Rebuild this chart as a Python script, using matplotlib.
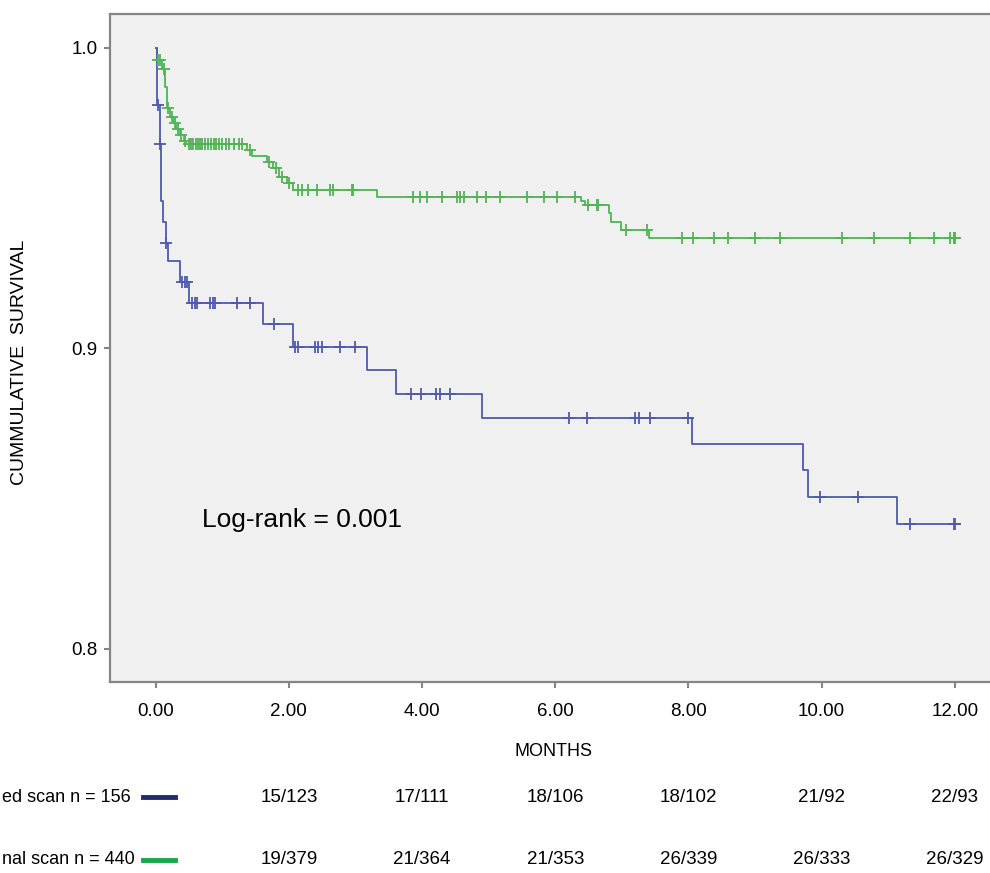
import numpy as np
import matplotlib
matplotlib.use('Agg')
import matplotlib.pyplot as plt
import matplotlib.transforms as mtransforms

plt.rcParams['font.family'] = ['Liberation Sans', 'DejaVu Sans']

# Kaplan-Meier steps (months, survival) and censored times
normal_times = [0, 0.02, 0.10, 0.14, 0.17, 0.22, 0.27, 0.31, 0.36, 0.42, 0.46,
                1.37, 1.45, 1.67, 1.76, 1.85, 1.97, 2.06, 3.32,
                6.38, 6.45, 6.80, 6.84, 6.98, 7.41]
normal_surv = [1.0, 0.996, 0.993, 0.987, 0.980, 0.977, 0.975, 0.973, 0.971, 0.969, 0.968,
               0.966, 0.964, 0.962, 0.960, 0.957, 0.955, 0.9527, 0.9503,
               0.9490, 0.9478, 0.9451, 0.9422, 0.9394, 0.9367]
normal_cens = [0.03, 0.06, 0.12, 0.19, 0.24, 0.29, 0.33, 0.38, 0.44,
               0.50, 0.53, 0.56, 0.60, 0.63, 0.66, 0.70, 0.74, 0.78, 0.83, 0.87,
               0.91, 0.95, 1.00, 1.05, 1.10, 1.17, 1.25, 1.30, 1.42, 1.70, 1.80, 1.90, 2.00,
               2.14, 2.20, 2.29, 2.42, 2.62, 2.67, 2.95, 2.97,
               3.86, 3.97, 4.08, 4.30, 4.52, 4.57, 4.63, 4.82, 4.96, 5.17, 5.57, 5.83,
               6.03, 6.30, 6.49, 6.62, 6.64, 7.06, 7.37,
               7.90, 8.07, 8.39, 8.60, 9.00, 9.38, 10.30, 10.78, 11.33, 11.69, 11.92,
               11.98, 12.00]

delayed_times = [0, 0.02, 0.06, 0.08, 0.11, 0.15, 0.19, 0.37, 0.50, 1.61, 2.06,
                 3.17, 3.61, 4.90, 8.06, 9.72, 9.79, 11.13]
delayed_surv = [1.0, 0.981, 0.968, 0.949, 0.942, 0.935, 0.929, 0.922, 0.915, 0.908, 0.9006,
                0.8927, 0.8849, 0.8768, 0.8681, 0.8596, 0.8507, 0.8416]
delayed_cens = [0.03, 0.07, 0.16, 0.39, 0.44, 0.47, 0.54, 0.59, 0.62, 0.82, 0.86, 0.89,
                1.22, 1.42, 1.77, 2.09, 2.14, 2.39, 2.44, 2.49, 2.77, 2.99,
                3.83, 3.99, 4.21, 4.27, 4.42, 6.20, 6.47, 7.20, 7.25, 7.42, 8.00,
                9.97, 10.54, 11.33, 11.99, 12.00]

end_month = 12.0
x_ticks = [0, 2, 4, 6, 8, 10, 12]
y_ticks = [0.8, 0.9, 1.0]

# numbers-at-risk table under the plot
table_months = [2, 4, 6, 8, 10, 12]
delayed_row = ['15/123', '17/111', '18/106', '18/102', '21/92', '22/93']
normal_row = ['19/379', '21/364', '21/353', '26/339', '26/333', '26/329']
# left labels are cut by the image edge in the source, keep what is visible
delayed_label = 'ed scan n = 156'
normal_label = 'nal scan n = 440'

BLUE = '#4f5aac'
GREEN = '#52b356'
SPINE = '#858585'


def surv_at(times, surv, t):
    idx = np.searchsorted(times, t, side='right') - 1
    return np.asarray(surv)[idx]


def draw_curve(ax, times, surv, cens, color):
    xs = list(times) + [end_month]
    ys = list(surv) + [surv[-1]]
    ax.step(xs, ys, where='post', color=color, lw=1.3, zorder=3)
    cy = surv_at(np.asarray(times), surv, np.asarray(cens))
    ax.plot(cens, cy, ls='none', marker='+', ms=8, mew=1.3, color=color, zorder=4)


fig = plt.figure(figsize=(9.9, 8.73), dpi=100)
ax = fig.add_axes([0.1111, 0.2188, 0.9005, 0.7652])
ax.set_facecolor('#f0f0f0')

draw_curve(ax, normal_times, normal_surv, normal_cens, GREEN)
draw_curve(ax, delayed_times, delayed_surv, delayed_cens, BLUE)

ax.set_xlim(-0.686, 12.7)
ax.set_ylim(0.789, 1.0113)
ax.set_xticks(x_ticks)
ax.set_xticklabels([f'{t:.2f}' for t in x_ticks])
ax.set_yticks(y_ticks)
ax.set_yticklabels([f'{t:.1f}' for t in y_ticks])
ax.tick_params(axis='x', length=4, width=1.5, color=SPINE, labelsize=13.5, pad=11)
ax.tick_params(axis='y', length=4, width=1.5, color=SPINE, labelsize=13.5, pad=5)
for sp in ax.spines.values():
    sp.set_color(SPINE)
    sp.set_linewidth(1.6)

ax.text(0.7, 0.8429, 'Log-rank = 0.001', fontsize=19, va='center', ha='left')

# axis titles
fig.text(553 / 990, 1 - 752 / 873, 'MONTHS', fontsize=13, ha='center', va='center')
fig.text(20 / 990, 1 - 362 / 873, 'CUMMULATIVE  SURVIVAL', fontsize=14,
         rotation=90, ha='center', va='center')

# numbers at risk, placed on the month scale
trans = mtransforms.blended_transform_factory(ax.transData, fig.transFigure)
for row, label, color, ypx in [(delayed_row, delayed_label, '#1f2b6b', 797),
                               (normal_row, normal_label, '#16a74a', 860)]:
    yf = 1 - ypx / 873
    for m, txt in zip(table_months, row):
        fig.text(m, yf, txt, transform=trans, fontsize=13.5, ha='center', va='center')
    fig.text(2 / 990, yf, label, fontsize=13, ha='left', va='center')
    fig.add_artist(plt.Line2D([143 / 990, 175 / 990], [yf, yf], color=color, lw=3.5,
                              transform=fig.transFigure))

fig.savefig('out.png', dpi=100)
